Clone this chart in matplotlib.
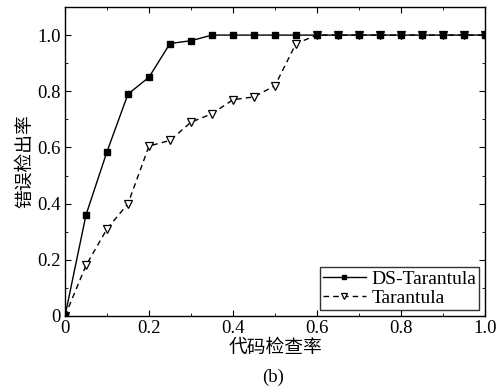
import matplotlib
matplotlib.use("Agg")
import matplotlib.pyplot as plt
from matplotlib.ticker import MultipleLocator

x = [0.0, 0.05, 0.1, 0.15, 0.2, 0.25, 0.3, 0.35, 0.4, 0.45, 0.5,
     0.55, 0.6, 0.65, 0.7, 0.75, 0.8, 0.85, 0.9, 0.95, 1.0]
ds_tarantula = [0.0, 0.36, 0.585, 0.79, 0.85, 0.97, 0.98, 1.0, 1.0, 1.0, 1.0,
                1.0, 1.0, 1.0, 1.0, 1.0, 1.0, 1.0, 1.0, 1.0, 1.0]
tarantula = [0.0, 0.18, 0.31, 0.40, 0.605, 0.625, 0.69, 0.72, 0.77, 0.78, 0.82,
             0.97, 1.0, 1.0, 1.0, 1.0, 1.0, 1.0, 1.0, 1.0, 1.0]
xticks = [0, 0.2, 0.4, 0.6, 0.8, 1.0]
xticklabels = ['0', '0.2', '0.4', '0.6', '0.8', '1.0']
yticks = [0, 0.2, 0.4, 0.6, 0.8, 1.0]
yticklabels = ['0', '0.2', '0.4', '0.6', '0.8', '1.0']

fam = ['Liberation Serif', 'Noto Sans CJK SC']
plt.rcParams['font.family'] = fam

fig = plt.figure(figsize=(5.03, 3.89), dpi=100)
ax = fig.add_axes([65/503, 1-316/389, 420/503, 309/389])

ax.plot(x, ds_tarantula, color='black', lw=1.0, ls='-', marker='s',
        markersize=5, markerfacecolor='black', label='DS-Tarantula', zorder=3)
ax.plot(x, tarantula, color='black', lw=1.0, ls=(0, (4, 3)), marker='v',
        markersize=6, markerfacecolor='white', markeredgewidth=0.9,
        label='Tarantula', zorder=2)

ax.set_xlim(0, 1.0)
ax.set_ylim(0, 1.1)
ax.set_xticks(xticks)
ax.set_xticklabels(xticklabels)
ax.set_yticks(yticks)
ax.set_yticklabels(yticklabels)
ax.xaxis.set_minor_locator(MultipleLocator(0.1))
ax.yaxis.set_minor_locator(MultipleLocator(0.1))
ax.tick_params(which='both', direction='in', top=True, right=True,
               labelsize=13.5, pad=3)
ax.tick_params(which='major', length=4)
ax.tick_params(which='minor', length=2.5)
for s in ax.spines.values():
    s.set_linewidth(1.0)

ax.set_xlabel('代码检查率', fontsize=13.5, labelpad=2)
ax.set_ylabel('错误检出率', fontsize=13.5, labelpad=2)
fig.text(273/503, 1-377/389, '(b)', ha='center', va='center', fontsize=13.5)

leg = ax.legend(loc='lower right', fontsize=14, frameon=True, fancybox=False,
                edgecolor='black', borderaxespad=0.3, handlelength=2.2,
                handletextpad=0.3, borderpad=0.15, labelspacing=0.1,
                markerscale=0.7)
leg.get_frame().set_linewidth(1.0)

fig.savefig('out.png', dpi=100)
